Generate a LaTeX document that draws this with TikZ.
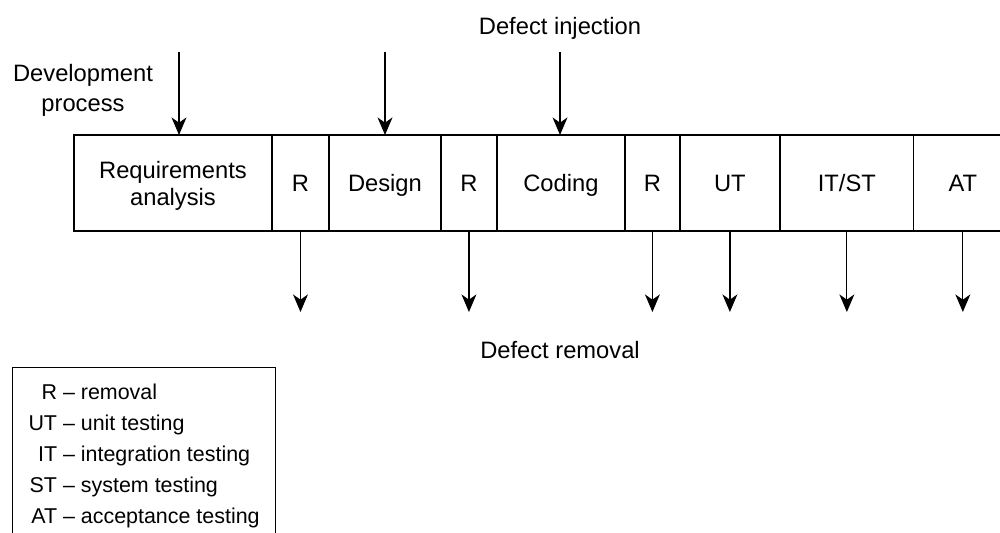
\documentclass[tikz,border=0pt]{standalone}
\usepackage{fontspec}
\setmainfont{Liberation Sans}
\usetikzlibrary{positioning}
\usetikzlibrary{arrows.meta}

\tikzset{
  cell/.style={draw, line width=0.7pt, outer sep=0pt, inner sep=0pt, minimum height=1.92cm, text depth=0pt, align=center, font=\fontsize{13.5}{15.3}\selectfont},
  flow/.style={line width=0.7pt, -{Stealth[length=10pt,width=8.5pt,inset=3pt]}},
  lbl/.style={align=center, font=\fontsize{13.5}{17}\selectfont},
}

\begin{document}
\begin{tikzpicture}[x=0.02cm, y=-0.02cm]

\clip (0,0) rectangle (1000,533);

\node[cell, minimum width=3.96cm] (req) at (173,183) {Requirements\\analysis};
\node[cell, minimum width=1.14cm, right=0pt of req] (r1) {R};
\node[cell, minimum width=2.24cm, right=0pt of r1] (design) {Design};
\node[cell, minimum width=1.12cm, right=0pt of design] (r2) {R};
\node[cell, minimum width=2.56cm, right=0pt of r2] (coding) {Coding};
\node[cell, minimum width=1.10cm, right=0pt of coding] (r3) {R};
\node[cell, minimum width=2.00cm, right=0pt of r3] (ut) {UT};
\node[cell, minimum width=2.68cm, right=0pt of ut] (itst) {IT/ST};
\node[cell, minimum width=1.96cm, right=0pt of itst] (at) {AT};

\node[lbl] (devproc) at (83,90) {Development\\process};
\node[lbl] (inject) at (560,28) {Defect injection};
\node[lbl] (remove) at (560,350) {Defect removal};

\coordinate (in1) at (179,52);
\coordinate (in2) at (385,52);
\coordinate (in3) at (560,52);

\draw[flow] (in1) -- (in1 |- req.north);
\draw[flow] (in2) -- (in2 |- design.north);
\draw[flow] (in3) -- (in3 |- coding.north);

\draw[flow] (r1.south) -- +(0,81);
\draw[flow] (r2.south) -- +(0,81);
\draw[flow] (r3.south) -- +(0,81);
\draw[flow] (ut.south) -- +(0,81);
\draw[flow] (itst.south) -- +(0,81);
\draw[flow] (at.south) -- +(0,81);

\node[draw, line width=0.7pt, anchor=north west, minimum width=5.26cm, inner ysep=6pt,
      font=\fontsize{12.2}{17.6}\selectfont] (key) at (12,367)
  {\begin{tabular}{@{}r@{ -- }l@{}}
   R & removal\\
   UT & unit testing\\
   IT & integration testing\\
   ST & system testing\\
   AT & acceptance testing
   \end{tabular}};

\end{tikzpicture}
\end{document}
